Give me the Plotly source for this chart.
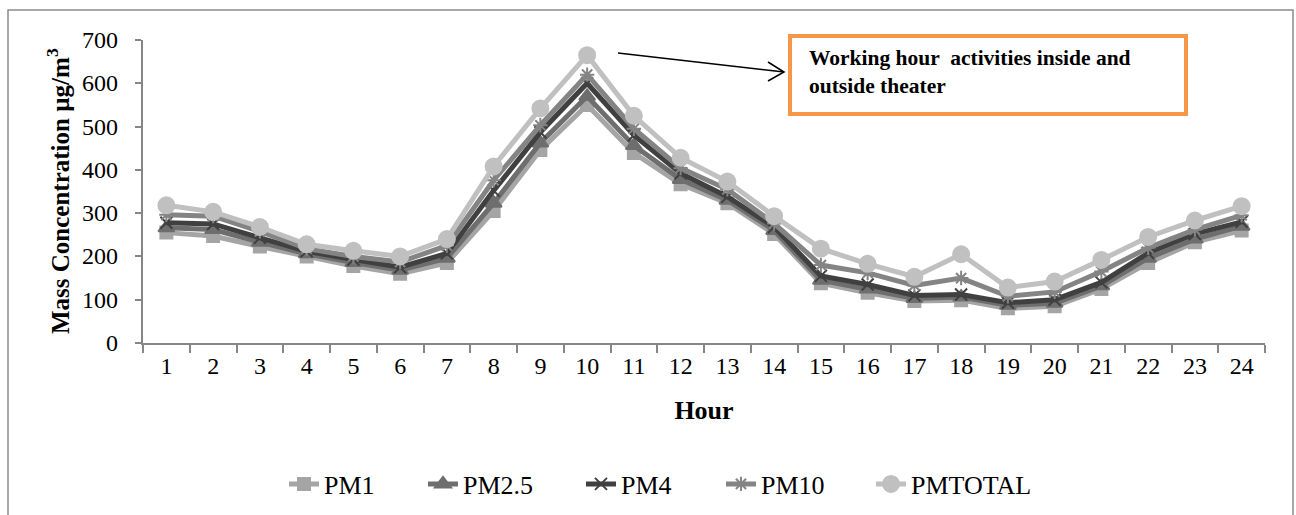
import plotly.graph_objects as go

hours = [str(h) for h in range(1, 25)]
y_ticks = [0, 100, 200, 300, 400, 500, 600, 700]

pm1 = [255, 247, 223, 200, 178, 160, 185, 305, 446, 550, 439, 367, 323, 252, 138, 116, 97, 99, 80, 85, 125, 185, 233, 260]
pm25 = [266, 262, 233, 206, 186, 168, 196, 323, 462, 570, 456, 378, 330, 260, 145, 125, 103, 106, 87, 92, 132, 196, 240, 270]
pm4 = [278, 275, 243, 212, 193, 175, 207, 352, 487, 600, 480, 392, 338, 268, 155, 135, 110, 112, 93, 100, 140, 208, 252, 280]
pm10 = [296, 293, 258, 218, 200, 187, 225, 376, 503, 620, 495, 404, 355, 276, 180, 162, 133, 150, 108, 118, 165, 220, 262, 295]
pmtotal = [318, 303, 268, 228, 213, 200, 240, 408, 542, 665, 525, 428, 373, 293, 218, 183, 153, 205, 128, 142, 192, 245, 283, 316]

series = [
    ("PM1", pm1, "#A5A5A5", "square", 12),
    ("PM2.5", pm25, "#6E6E6E", "triangle-up", 14),
    ("PM4", pm4, "#404040", "x-thin", 12),
    ("PM10", pm10, "#848484", "asterisk-open", 12),
    ("PMTOTAL", pmtotal, "#C0C0C0", "circle", 16),
]

FONT = "Liberation Serif"
L, R, T, B = 143, 31, 40, 172
pw, ph = 1296 - L - R, 515 - T - B
def px(x):
    return (x - L) / pw
def py(y):
    return (515 - B - y) / ph

legend_names = ["legend", "legend2", "legend3", "legend4", "legend5"]
legend_text_x = [326, 465, 623, 763, 913]

fig = go.Figure()
for (name, vals, col, sym, sz), lg in zip(series, legend_names):
    fig.add_trace(go.Scatter(
        x=hours, y=vals, name=name, mode="lines+markers", legend=lg,
        line=dict(color=col, width=5),
        marker=dict(symbol=sym, size=sz, color=col,
                    line=dict(color=col, width=2)),
    ))

legend_layouts = {}
for lg, tx in zip(legend_names, legend_text_x):
    legend_layouts[lg] = dict(
        orientation="h", x=px(tx - 42), xanchor="left", y=py(484), yanchor="middle",
        font=dict(family=FONT, size=26, color="black"), bgcolor="rgba(0,0,0,0)",
    )

fig.update_layout(
    width=1296, height=515,
    margin=dict(l=L, r=R, t=T, b=B, autoexpand=False),
    paper_bgcolor="white", plot_bgcolor="white",
    font=dict(family=FONT, size=24, color="black"),
    showlegend=True,
    xaxis=dict(
        type="category", range=[-0.5, 23.5], showline=True, linecolor="#868686", linewidth=2,
        ticks="outside", tickson="boundaries", ticklen=8, tickcolor="#868686", tickwidth=2,
        showgrid=False, zeroline=False, automargin=False,
        title=dict(text="<b>Hour</b>", font=dict(family=FONT, size=26), standoff=23),
        tickfont=dict(family=FONT, size=24),
    ),
    yaxis=dict(
        range=[0, 700], showline=True, linecolor="#868686", linewidth=2,
        tickmode="array", tickvals=y_ticks, showticklabels=False,
        ticks="outside", ticklen=6, tickcolor="#868686", tickwidth=2,
        showgrid=False, zeroline=False, automargin=False,
    ),
    **legend_layouts,
)

# y tick labels, set a little further from the axis as in the reference
for v in y_ticks:
    fig.add_annotation(xref="paper", yref="y", x=px(120), y=v,
                       xanchor="right", yanchor="middle", showarrow=False,
                       text=str(v), font=dict(family=FONT, size=24, color="black"))

# y-axis title placed explicitly
fig.add_annotation(xref="paper", yref="paper", x=px(58), y=py(191),
                   xanchor="center", yanchor="middle", textangle=-90, showarrow=False,
                   text="<b>Mass Concentration µg/m<sup>3</sup></b>",
                   font=dict(family=FONT, size=25, color="black"))

# outer chart border
fig.add_shape(type="rect", xref="paper", yref="paper",
              x0=px(8), x1=px(1293), y0=py(516), y1=py(10),
              line=dict(color="#8C8C8C", width=1.5), fillcolor="rgba(0,0,0,0)", layer="below")

# orange annotation box
fig.add_shape(type="rect", xref="paper", yref="paper",
              x0=px(790), x1=px(1186), y0=py(114), y1=py(36),
              line=dict(color="#F79646", width=4), fillcolor="white")
fig.add_annotation(xref="paper", yref="paper", x=px(807), y=py(72),
                   xanchor="left", yanchor="middle", align="left", showarrow=False,
                   text="<b>Working hour  activities inside and<br>outside theater</b>",
                   font=dict(family=FONT, size=21.5, color="black"))

# arrow: shaft and open chevron head
fig.add_shape(type="line", xref="paper", yref="paper",
              x0=px(618), y0=py(53), x1=px(784), y1=py(72),
              line=dict(color="black", width=1.5))
fig.add_shape(type="path", xref="paper", yref="paper",
              path=f"M {px(768)},{py(62)} L {px(784)},{py(72)} L {px(768)},{py(81)}",
              line=dict(color="black", width=1.5))

fig.write_html("out.html")
